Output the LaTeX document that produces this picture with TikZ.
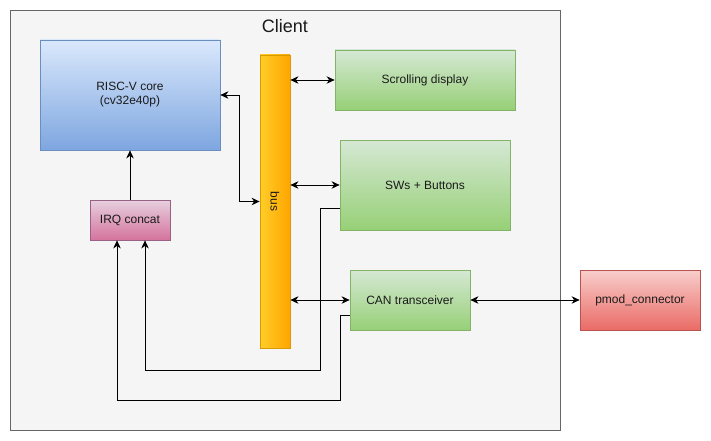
\documentclass[tikz,border=0pt]{standalone}
\usepackage{fontspec}
\setmainfont{Liberation Sans}
\usetikzlibrary{arrows.meta}
\definecolor{clientfill}{HTML}{F5F5F5}
\definecolor{clientline}{HTML}{666666}
\definecolor{clienttext}{HTML}{333333}
\definecolor{blueA}{HTML}{DAE8FC}
\definecolor{blueB}{HTML}{7EA6E0}
\definecolor{blueL}{HTML}{6C8EBF}
\definecolor{greenA}{HTML}{D5E8D4}
\definecolor{greenB}{HTML}{97D077}
\definecolor{greenL}{HTML}{82B366}
\definecolor{redA}{HTML}{F8CECC}
\definecolor{redB}{HTML}{EA6B66}
\definecolor{redL}{HTML}{B85450}
\definecolor{pinkA}{HTML}{E6D0DE}
\definecolor{pinkB}{HTML}{D5739D}
\definecolor{pinkL}{HTML}{996185}
\definecolor{orA}{HTML}{FFCD28}
\definecolor{orB}{HTML}{FFA500}
\definecolor{orL}{HTML}{D79B00}
\definecolor{txt}{HTML}{1A1A1A}
\tikzset{
  box/.style={rectangle, inner sep=0pt, line width=0.8pt, align=center,
    font=\fontsize{12}{14}\selectfont, text=txt},
  bluebox/.style={box, draw=blueL, top color=blueA, bottom color=blueB},
  greenbox/.style={box, draw=greenL, top color=greenA, bottom color=greenB},
  redbox/.style={box, draw=redL, top color=redA, bottom color=redB},
  pinkbox/.style={box, draw=pinkL, top color=pinkA, bottom color=pinkB},
  busbox/.style={box, draw=orL, left color=orA, right color=orB},
  conn/.style={line width=0.9pt, black},
  both/.style={conn, {Stealth[length=8pt, width=7.5pt, inset=2.5pt]}-{Stealth[length=8pt, width=7.5pt, inset=2.5pt]}},
  one/.style={conn, -{Stealth[length=8pt, width=7.5pt, inset=2.5pt]}},
}
\begin{document}
\begin{tikzpicture}[x=1pt, y=-1pt]
\useasboundingbox (0,0) rectangle (711,441);
\fill[white] (0,0) rectangle (711,441);
\node[draw=clientline, fill=clientfill, line width=0.8pt, minimum width=550pt, minimum height=420pt, inner sep=0pt] (client) at (285,220) {};
\node[font=\fontsize{18}{20}\selectfont, text=txt] (clienttitle) at (285,26) {Client};

\node[bluebox, minimum width=180pt, minimum height=110pt] (risc) at (130,95) {RISC-V core\\(cv32e40p)};
\node[busbox, minimum width=30pt, minimum height=293pt] (bus) at (275,201.5) {};
\node[box, rotate=-90] (bustext) at (275,201.5) {bus};
\node[greenbox, minimum width=180pt, minimum height=60pt] (scroll) at (425,80) {Scrolling display};
\node[greenbox, minimum width=170pt, minimum height=90pt] (sw) at (425,185) {SWs + Buttons};
\node[greenbox, minimum width=120pt, minimum height=60pt] (can) at (410,300) {CAN transceiver};
\node[redbox, minimum width=120pt, minimum height=60pt] (pmod) at (640,300) {pmod\_connector};
\node[pinkbox, minimum width=80pt, minimum height=40pt] (irq) at (130,220) {IRQ concat};

\draw[both] (risc.east) -| ([xshift=-20pt]bus.west) -- (bus.west);
\draw[both] (bus.east |- scroll.west) -- (scroll.west);
\draw[both] (bus.east |- sw.west) -- (sw.west);
\draw[both] (bus.east |- can.west) -- (can.west);
\draw[both] (can.east) -- (pmod.west);
\draw[one] (irq.north) -- (risc.south);
\draw[one] ([yshift=-23pt]sw.west) -| (320,370) -| ([xshift=15pt]irq.south);
\draw[one] ([yshift=-15pt]can.west) -| (340,400) -| ([xshift=-13pt]irq.south);
\end{tikzpicture}
\end{document}
